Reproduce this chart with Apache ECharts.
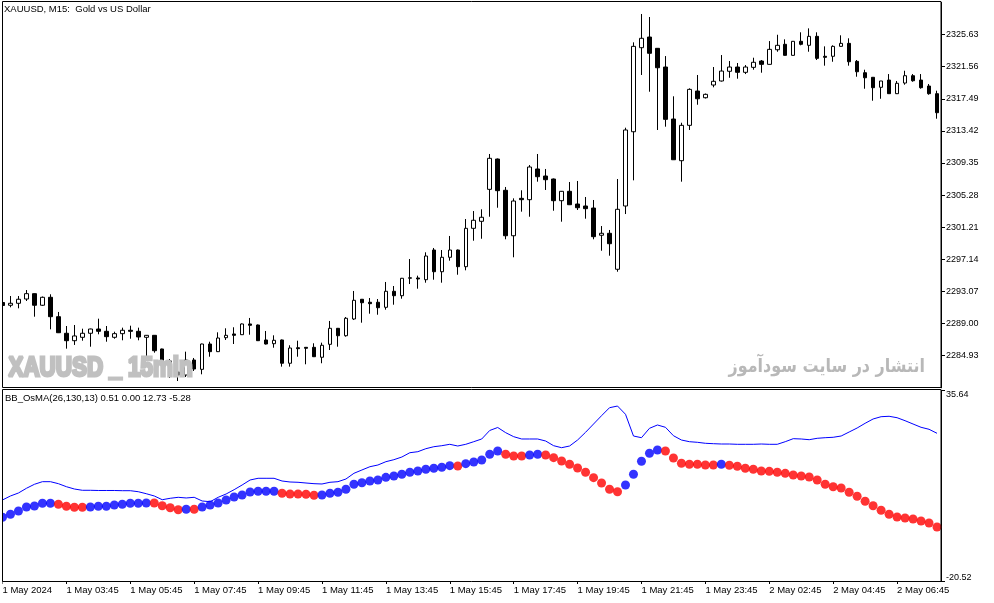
<!DOCTYPE html>
<html><head><meta charset="utf-8">
<script src="https://cdn.jsdelivr.net/npm/echarts@6/dist/echarts.min.js"></script>
<style>html,body{margin:0;padding:0;background:#fff}#c{width:994px;height:603px}</style>
</head><body><div id="c"></div>
<script>
const tickLabels = ['1 May 2024','1 May 03:45','1 May 05:45','1 May 07:45','1 May 09:45','1 May 11:45','1 May 13:45','1 May 15:45','1 May 17:45','1 May 19:45','1 May 21:45','1 May 23:45','2 May 02:45','2 May 04:45','2 May 06:45'];

const open = [2291.67,2291.32,2291.57,2292.11,2292.79,2291.32,2292.33,2289.87,2287.77,2286.83,
2287.26,2287.77,2288.31,2288.02,2287.26,2287.72,2288.15,2288.02,2287.26,2287.51,
2285.78,2284.26,2282.86,2282.48,2284.38,2283.20,2286.41,2285.44,2287.21,2287.68,
2287.59,2288.95,2288.82,2286.92,2286.45,2286.92,2283.97,2285.94,2285.99,2285.99,
2284.73,2286.37,2288.40,2287.46,2289.58,2292.08,2291.70,2291.70,2291.06,2293.09,
2292.53,2294.74,2294.78,2294.56,2298.32,2295.57,2297.40,2298.32,2296.21,2301.07,
2301.96,2306.01,2309.85,2305.89,2300.13,2304.87,2304.70,2308.59,2307.70,2307.32,
2304.57,2305.76,2304.15,2303.90,2303.64,2300.19,2300.44,2295.88,2303.90,2313.31,
2323.96,2325.31,2323.88,2321.51,2314.92,2309.64,2314.12,2318.47,2317.62,2319.23,
2319.74,2320.97,2321.51,2320.84,2321.47,2322.27,2321.85,2323.70,2324.39,2322.99,
2324.77,2324.26,2325.40,2322.87,2322.87,2324.13,2324.51,2322.23,2320.79,2320.21,
2318.94,2319.86,2318.13,2319.48,2320.41,2319.86,2319.10,2318.13];

const high = [2291.99,2292.49,2292.49,2293.25,2292.82,2292.43,2292.71,2290.47,2288.69,2288.82,
2288.35,2288.35,2289.62,2288.69,2287.97,2288.48,2288.73,2288.48,2287.55,2287.55,
2285.82,2284.51,2283.37,2285.44,2284.64,2286.45,2286.70,2287.89,2288.40,2288.53,
2289.01,2289.71,2288.88,2288.06,2287.51,2286.98,2286.25,2286.83,2286.03,2286.50,
2286.58,2289.33,2288.44,2289.83,2293.13,2292.11,2292.24,2292.11,2294.27,2293.76,
2294.78,2297.18,2295.07,2298.03,2298.58,2298.32,2300.10,2298.38,2302.25,2303.26,
2303.48,2310.49,2309.92,2306.31,2304.87,2305.89,2309.09,2310.49,2308.59,2307.38,
2305.80,2306.94,2307.07,2305.04,2304.66,2301.36,2300.86,2307.32,2313.82,2324.64,
2328.23,2327.85,2323.92,2322.90,2317.80,2314.45,2318.81,2320.50,2318.15,2321.51,
2323.03,2322.27,2322.02,2321.76,2322.69,2322.40,2324.80,2325.60,2325.02,2324.80,
2325.91,2326.41,2325.91,2324.13,2324.26,2325.53,2325.15,2322.40,2321.17,2320.24,
2319.74,2320.62,2319.74,2321.04,2320.62,2320.62,2319.36,2318.51];

const low = [2291.10,2291.06,2290.93,2291.86,2289.87,2291.23,2288.27,2287.80,2285.82,2286.29,
2286.83,2286.07,2287.64,2286.70,2287.08,2286.88,2287.08,2286.88,2284.38,2285.31,
2283.88,2282.10,2281.72,2282.23,2282.99,2282.57,2284.80,2285.40,2286.92,2286.41,
2287.55,2287.59,2286.79,2286.35,2285.94,2283.54,2283.54,2284.80,2283.84,2284.76,
2283.97,2285.65,2286.07,2287.34,2289.45,2289.11,2290.25,2290.12,2290.76,2291.39,
2292.15,2294.01,2293.42,2294.18,2294.56,2294.18,2296.97,2295.19,2295.75,2299.50,
2299.75,2302.54,2303.68,2299.68,2297.40,2303.18,2302.54,2306.98,2305.93,2303.30,
2301.91,2304.02,2303.39,2302.29,2299.68,2298.23,2297.60,2295.57,2302.88,2307.15,
2320.50,2318.38,2313.53,2313.95,2309.73,2306.98,2313.53,2316.73,2317.52,2318.94,
2319.67,2320.15,2320.03,2320.62,2321.17,2320.79,2321.83,2323.45,2322.97,2322.97,
2324.26,2323.45,2322.40,2321.68,2322.18,2324.11,2321.68,2320.28,2318.76,2317.24,
2317.49,2318.09,2318.09,2319.27,2319.65,2318.76,2318.00,2314.96];

const close = [2291.29,2291.57,2292.08,2292.79,2291.32,2292.33,2289.87,2287.84,2286.83,2287.43,
2287.77,2288.31,2288.02,2287.34,2287.72,2288.15,2288.02,2287.30,2287.51,2285.56,
2284.26,2282.86,2282.48,2284.38,2283.24,2286.41,2285.44,2287.17,2287.51,2287.51,
2288.95,2288.78,2286.83,2286.41,2286.88,2283.97,2285.90,2285.82,2285.87,2284.80,
2286.25,2288.40,2287.46,2289.67,2291.95,2291.64,2291.52,2291.01,2293.09,2292.53,
2294.74,2294.81,2294.65,2297.56,2295.57,2297.40,2298.32,2296.21,2301.07,2302.09,
2302.47,2309.94,2305.84,2300.13,2304.53,2304.70,2308.84,2307.61,2307.23,2304.57,
2305.76,2304.06,2303.68,2303.56,2300.01,2300.44,2299.12,2303.48,2313.53,2324.13,
2325.15,2323.25,2321.42,2314.88,2309.76,2314.12,2318.68,2317.49,2318.05,2319.70,
2321.00,2321.51,2320.84,2321.51,2322.11,2321.85,2323.75,2324.26,2322.99,2324.77,
2324.39,2325.40,2322.61,2322.74,2324.13,2324.51,2322.18,2320.91,2320.15,2318.89,
2319.74,2318.13,2319.45,2320.41,2319.77,2318.89,2318.13,2315.72];

const osma = [-1.72,-0.83,0.14,1.32,1.62,2.41,2.41,2.12,1.53,1.23,
1.23,1.32,1.53,1.53,1.91,2.12,2.41,2.41,2.50,2.50,
1.70,1.11,0.52,0.64,0.64,1.32,1.91,2.50,3.39,4.27,
4.86,5.75,5.95,5.95,5.95,5.36,5.16,5.16,5.07,4.77,
4.86,5.36,5.66,6.54,8.02,8.49,8.99,9.29,10.08,10.47,
10.97,11.56,11.94,12.45,12.74,13.04,13.51,13.42,14.10,14.60,
15.19,16.87,17.85,16.87,16.37,16.37,16.67,16.87,16.67,15.87,
14.89,13.92,12.83,11.56,9.97,8.40,6.54,5.83,7.81,10.97,
14.81,17.17,18.14,17.85,15.78,14.22,13.92,13.92,13.71,13.71,
13.92,13.63,13.33,12.74,12.45,11.94,11.85,11.56,11.26,10.76,
10.47,10.17,9.29,8.02,7.31,6.93,5.66,4.48,3.00,1.70,
0.35,-0.83,-1.63,-1.93,-2.22,-2.81,-3.40,-4.58];

const osmaUp = [1,1,1,1,1,1,1,0,0,0,
0,1,1,1,1,1,1,1,1,0,
0,0,0,1,0,1,1,1,1,1,
1,1,1,1,1,0,0,0,0,0,
1,1,1,1,1,1,1,1,1,1,
1,1,1,1,1,1,1,0,1,1,
1,1,1,0,0,0,1,1,0,0,
0,0,0,0,0,0,0,0,1,1,
1,1,1,0,0,0,0,0,0,0,
1,0,0,0,0,0,0,0,0,0,
0,0,0,0,0,0,0,0,0,0,
0,0,0,0,0,0,0,0];

const upperBand = [3.39,4.57,5.45,6.84,8.02,8.79,8.79,8.20,7.31,6.63,
6.25,6.25,6.19,6.19,6.19,6.13,6.13,5.83,5.24,4.57,
3.47,3.89,4.18,3.98,4.18,3.09,2.88,4.18,5.16,6.43,
7.81,9.29,9.79,9.79,9.79,8.99,8.70,8.61,8.40,8.20,
8.11,8.61,8.79,9.58,11.26,12.24,13.21,13.71,14.69,15.28,
16.07,17.34,17.64,18.52,19.11,19.41,19.82,19.32,19.82,20.59,
21.39,23.90,24.78,23.25,22.07,21.39,21.39,21.39,20.80,19.41,
18.82,19.32,21.09,23.36,25.81,28.26,30.62,31.12,28.68,22.27,
21.77,24.54,25.52,24.84,22.36,21.09,20.59,20.41,20.12,20.00,
19.91,19.91,19.82,19.82,19.82,19.91,19.82,19.82,20.59,21.48,
21.39,21.18,21.59,21.77,21.89,22.27,23.45,24.63,26.02,27.29,
27.97,28.09,27.67,26.79,25.81,24.84,24.25,23.07];

const PRICE_BASE = 2280.86, PRICE_STEP = 4.07;
const OSC_MIN = -20.52, OSC_MAX = 35.64;

const FONT = 'Liberation Sans';
const idx = open.map((_, i) => i);

const chart = echarts.init(document.getElementById('c'), null, {renderer: 'canvas'});
chart.setOption({
  animation: false,
  backgroundColor: '#fff',
  title: [
    {text: 'XAUUSD, M15:  Gold vs US Dollar', left: 4, top: 4, padding: 0,
     textStyle: {fontSize: 9.5, fontWeight: 'normal', color: '#000', fontFamily: FONT}},
    {text: 'BB_OsMA(26,130,13) 0.51 0.00 12.73 -5.28', left: 5, top: 393, padding: 0,
     textStyle: {fontSize: 9.5, fontWeight: 'normal', color: '#000', fontFamily: FONT}}
  ],
  grid: [
    {left: -1.5, top: 2.4, width: 942.5, height: 385.4, outerBoundsMode: 'none', containLabel: false},
    {left: -1.5, top: 390.7, width: 942.5, height: 190.3, outerBoundsMode: 'none', containLabel: false}
  ],
  xAxis: [
    {type: 'category', gridIndex: 0, data: idx, boundaryGap: true, show: false},
    {type: 'category', gridIndex: 1, data: idx, boundaryGap: true,
     axisLine: {show: false},
     axisTick: {show: true, interval: 7, alignWithLabel: true, length: 3, lineStyle: {color: '#000'}},
     axisLabel: {interval: 7, align: 'left', margin: 4, color: '#000', fontSize: 9.5, fontFamily: FONT,
       formatter: (v, i) => (i % 8 === 0 && tickLabels[i / 8]) ? tickLabels[i / 8] : ''},
     splitLine: {show: false}}
  ],
  yAxis: [
    {type: 'value', gridIndex: 0, position: 'right', min: 0, max: PRICE_STEP * 12, interval: PRICE_STEP,
     axisLine: {show: true, lineStyle: {color: '#000'}},
     axisTick: {show: true, length: 4, lineStyle: {color: '#000'}},
     splitLine: {show: false},
     axisLabel: {showMinLabel: false, showMaxLabel: false, margin: 5, color: '#000', fontSize: 9, fontFamily: FONT,
       formatter: v => (v + PRICE_BASE).toFixed(2)}},
    {type: 'value', gridIndex: 1, position: 'right', min: 0, max: OSC_MAX - OSC_MIN, interval: OSC_MAX - OSC_MIN,
     axisLine: {show: true, lineStyle: {color: '#000'}},
     axisTick: {show: true, length: 4, lineStyle: {color: '#000'}},
     splitLine: {show: false},
     axisLabel: {margin: 5, color: '#000', fontSize: 9, fontFamily: FONT,
       formatter: v => { const t = (v + OSC_MIN).toFixed(2); return v > 1 ? '{t|' + t + '}' : '{b|' + t + '}'; },
       rich: {t: {padding: [7, 0, 0, 0], fontSize: 9, fontFamily: FONT, color: '#000'},
              b: {padding: [0, 0, 7, 0], fontSize: 9, fontFamily: FONT, color: '#000'}}}}
  ],
  series: [
    {type: 'candlestick', xAxisIndex: 0, yAxisIndex: 0, barWidth: 4,
     data: open.map((o, i) => [o - PRICE_BASE, close[i] - PRICE_BASE, low[i] - PRICE_BASE, high[i] - PRICE_BASE]),
     itemStyle: {color: '#fff', color0: '#000', borderColor: '#000', borderColor0: '#000', borderWidth: 1}},
    {type: 'line', xAxisIndex: 1, yAxisIndex: 1, showSymbol: false, symbol: 'none',
     data: upperBand.map(v => v - OSC_MIN), lineStyle: {color: '#0000ff', width: 1}},
    {type: 'scatter', xAxisIndex: 1, yAxisIndex: 1, symbolSize: 9, z: 3,
     data: osma.map((v, i) => ({value: [i, v - OSC_MIN], itemStyle: {color: osmaUp[i] ? '#0000ff' : '#ff0000'}}))}
  ],
  graphic: [
    {type: 'rect', z: 50, shape: {x: 0, y: 0, width: 2.5, height: 603}, style: {fill: '#fff'}},
    {type: 'rect', z: 60, shape: {x: 2.5, y: 1.5, width: 938.5, height: 386}, style: {fill: 'none', stroke: '#000', lineWidth: 1}},
    {type: 'rect', z: 60, shape: {x: 2.5, y: 389.5, width: 938.5, height: 192}, style: {fill: 'none', stroke: '#000', lineWidth: 1}},
    {type: 'text', z: 55, x: 8.5, y: 368.5, scaleX: 0.8,
     style: {text: 'XAUUSD _ 15min', font: 'bold 28px "Liberation Sans"', fill: '#c0c0c0',
             stroke: '#c0c0c0', lineWidth: 3, lineJoin: 'miter', align: 'left', verticalAlign: 'middle'}},
    {type: 'text', z: 55, x: 925, y: 367, scaleX: 0.84,
     style: {text: 'انتشار در سایت سودآموز', font: 'bold 19px "DejaVu Sans"', fill: '#b8b8b8', align: 'right', verticalAlign: 'middle'}}
  ]
});
</script>
</body></html>
